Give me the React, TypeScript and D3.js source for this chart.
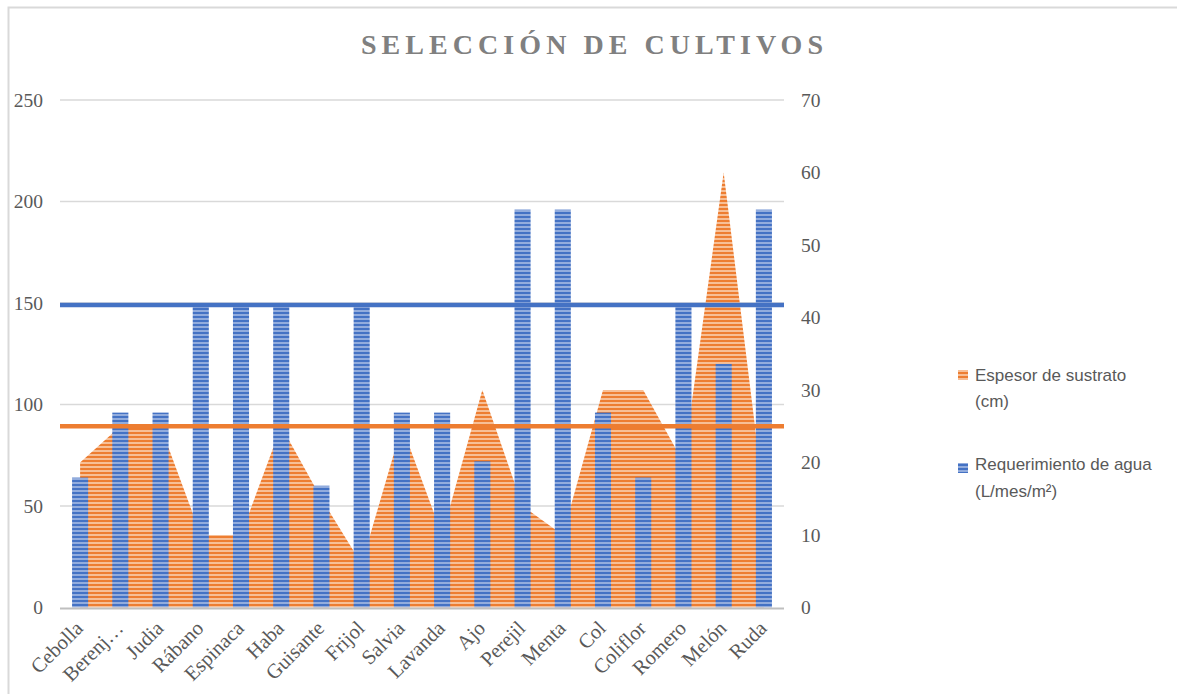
import React from 'react';
import * as d3 from 'd3';

const categories = [
  'Cebolla', 'Berenj…', 'Judia', 'Rábano', 'Espinaca', 'Haba', 'Guisante', 'Frijol', 'Salvia',
  'Lavanda', 'Ajo', 'Perejil', 'Menta', 'Col', 'Coliflor', 'Romero', 'Melón', 'Ruda',
];
// Requerimiento de agua (columns, left axis)
const waterValues = [64, 96, 96, 148, 148, 148, 60, 148, 96, 96, 72, 196, 196, 96, 64, 148, 120, 196];
// Espesor de sustrato (area, right axis)
const substrateValues = [20, 25, 25, 10, 10, 25, 15, 6, 25, 10, 30, 14, 10, 30, 30, 20, 60, 15];
const leftTicks = [0, 50, 100, 150, 200, 250];
const rightTicks = [0, 10, 20, 30, 40, 50, 60, 70];
const waterRef = 149;
const substrateRef = 25;

const WIDTH = 1177;
const HEIGHT = 694;
const plot = { left: 60, right: 784, top: 100, bottom: 607.5 };
const BLUE = '#4472C4';
const ORANGE = '#ED7D31';
const TEXT = '#595959';
const serif = '"Liberation Serif", "Times New Roman", serif';
const sans = '"Liberation Sans", Arial, sans-serif';

export default function App() {
  const x = d3.scaleBand<string>()
    .domain(categories)
    .range([plot.left, plot.right])
    .paddingInner(0.6)
    .paddingOuter(0.3);
  const yLeft = d3.scaleLinear().domain([0, 250]).range([plot.bottom, plot.top]);
  const yRight = d3.scaleLinear().domain([0, 70]).range([plot.bottom, plot.top]);
  const cx = (c: string) => (x(c) || 0) + x.bandwidth() / 2;

  const area = d3.area<number>()
    .x((_, i) => cx(categories[i]))
    .y0(yRight(0))
    .y1(d => yRight(d));

  return (
    <svg width={WIDTH} height={HEIGHT} style={{ position: 'absolute', left: 0, top: 0, background: '#fff' }}>
      <defs>
        <pattern id="bluePat" width={4} height={4} patternUnits="userSpaceOnUse">
          <rect width={4} height={4} fill={BLUE} />
          <rect y={2} width={4} height={2} fill="#92acdd" />
        </pattern>
        <pattern id="orangePat" width={4} height={4} patternUnits="userSpaceOnUse">
          <rect width={4} height={4} fill={ORANGE} />
          <rect y={2} width={4} height={2} fill="#f7bf96" />
        </pattern>
      </defs>

      {/* chart border */}
      <rect x={8.5} y={7.5} width={1300} height={800} fill="none" stroke="#d9d9d9" strokeWidth={2} />

      {/* title */}
      <text x={592} y={54} textAnchor="middle" fontFamily={serif} fontWeight="bold" fontSize={28}
        fill="#808080" textLength={462} lengthAdjust="spacing">SELECCIÓN DE CULTIVOS</text>

      {/* gridlines */}
      {leftTicks.filter(t => t > 0).map(t => (
        <line key={t} x1={plot.left} x2={plot.right} y1={yLeft(t)} y2={yLeft(t)} stroke="#d9d9d9" strokeWidth={1.5} />
      ))}

      {/* substrate area */}
      <path d={area(substrateValues) || ''} fill="url(#orangePat)" />

      {/* water columns */}
      {categories.map((c, i) => (
        <rect key={c} x={x(c)} y={yLeft(waterValues[i])} width={x.bandwidth()}
          height={yLeft(0) - yLeft(waterValues[i])} fill="url(#bluePat)" />
      ))}

      {/* x axis */}
      <line x1={plot.left} x2={plot.right} y1={plot.bottom + 1} y2={plot.bottom + 1} stroke="#bfbfbf" strokeWidth={2} />

      {/* reference lines */}
      <line x1={plot.left} x2={plot.right} y1={yLeft(waterRef)} y2={yLeft(waterRef)} stroke={BLUE} strokeWidth={4.5} />
      <line x1={plot.left} x2={plot.right} y1={yRight(substrateRef)} y2={yRight(substrateRef)} stroke={ORANGE} strokeWidth={4.5} />

      {/* left axis labels */}
      {leftTicks.map(t => (
        <text key={t} x={43} y={yLeft(t)} dy="0.35em" textAnchor="end" fontFamily={serif} fontSize={19.5} fill={TEXT}>{t}</text>
      ))}
      {/* right axis labels */}
      {rightTicks.map(t => (
        <text key={t} x={801} y={yRight(t)} dy="0.35em" textAnchor="start" fontFamily={serif} fontSize={19.5} fill={TEXT}>{t}</text>
      ))}

      {/* category labels */}
      {categories.map(c => (
        <text key={c} transform={`translate(${cx(c) - 1},${plot.bottom + 17}) rotate(-45)`} textAnchor="end"
          dy="0.35em" fontFamily={serif} fontSize={20.5} fill={TEXT}>{c}</text>
      ))}

      {/* legend */}
      <rect x={958} y={370} width={10} height={10} fill="url(#orangePat)" />
      <text fontFamily={sans} fontSize={17} fill={TEXT}>
        <tspan x={975} y={381}>Espesor de sustrato</tspan>
        <tspan x={975} y={407}>(cm)</tspan>
      </text>
      <rect x={958} y={463} width={10} height={10} fill="url(#bluePat)" />
      <text fontFamily={sans} fontSize={17} fill={TEXT}>
        <tspan x={975} y={470}>Requerimiento de agua</tspan>
        <tspan x={975} y={497}>(L/mes/m²)</tspan>
      </text>
    </svg>
  );
}
